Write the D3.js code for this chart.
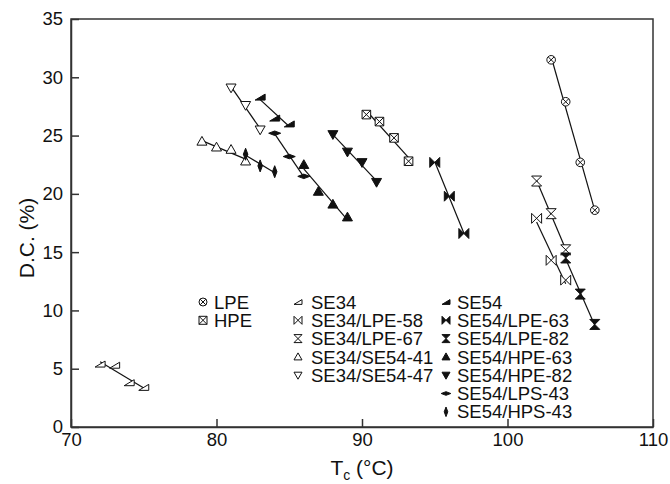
<!DOCTYPE html>
<html lang="en">
<head>
  <meta charset="utf-8">
  <title>D.C. vs Tc</title>
  <script src="https://d3js.org/d3.v7.min.js"></script>
  <style>
    body { margin: 0; background: #fff; }
    svg { font-family: "Liberation Sans", Arial, sans-serif; }
    .axis text { font-size: 18.5px; fill: #111; }
    .axis path, .axis line { stroke: #333; stroke-width: 1.5; }
    .frame { fill: none; stroke: #333; stroke-width: 1.5; }
    .fit { stroke: #111; stroke-width: 1.2; fill: none; }
    .legend text { font-size: 18.5px; fill: #111; }
    .title { font-size: 21px; fill: #111; }
  </style>
</head>
<body>
  <svg id="chart" width="670" height="484"></svg>
  <script>
    // [Tc (°C), D.C. (%)]
    const lpe      = [[103, 31.5], [104, 27.9], [105, 22.7], [106, 18.6]];
    const hpe      = [[90.3, 26.8], [91.2, 26.2], [92.2, 24.8], [93.2, 22.8]];
    const se34     = [[72, 5.4], [73, 5.3], [74, 3.8], [75, 3.4]];
    const se34lpe58 = [[102, 17.9], [103, 14.3], [104, 12.6]];
    const se34lpe67 = [[102, 21.1], [103, 18.3], [104, 15.2]];
    const se34se41 = [[79, 24.5], [80, 24.0], [81, 23.8], [82, 22.8]];
    const se34se47 = [[81, 29.1], [82, 27.6], [83, 25.5]];
    const se54     = [[83, 28.3], [84, 26.5], [85, 26.0]];
    const se54lpe63 = [[95, 22.7], [96, 19.8], [97, 16.6]];
    const se54lpe82 = [[104, 14.5], [105, 11.4], [106, 8.8]];
    const se54hpe63 = [[86, 22.5], [87, 20.2], [88, 19.1], [89, 18.0]];
    const se54hpe82 = [[88, 25.1], [89, 23.6], [90, 22.7], [91, 21.0]];
    const se54lps43 = [[84, 25.2], [85, 23.2], [86, 21.5]];
    const se54hps43 = [[82, 23.4], [83, 22.4], [84, 21.9]];

    const xTicks = [70, 80, 90, 100, 110];
    const yTicks = [0, 5, 10, 15, 20, 25, 30, 35];

    const series = [
      {name: "LPE",          data: lpe,       shape: "circleX",   filled: false, col: 0},
      {name: "HPE",          data: hpe,       shape: "squareX",   filled: false, col: 0},
      {name: "SE34",         data: se34,      shape: "rtri",      filled: false, col: 1},
      {name: "SE34/LPE-58",  data: se34lpe58, shape: "bowtie",    filled: false, col: 1},
      {name: "SE34/LPE-67",  data: se34lpe67, shape: "hourglass", filled: false, col: 1},
      {name: "SE34/SE54-41", data: se34se41,  shape: "triUp",     filled: false, col: 1},
      {name: "SE34/SE54-47", data: se34se47,  shape: "triDown",   filled: false, col: 1},
      {name: "SE54",         data: se54,      shape: "rtri",      filled: true,  col: 2},
      {name: "SE54/LPE-63",  data: se54lpe63, shape: "bowtie",    filled: true,  col: 2},
      {name: "SE54/LPE-82",  data: se54lpe82, shape: "hourglass", filled: true,  col: 2},
      {name: "SE54/HPE-63",  data: se54hpe63, shape: "triUp",     filled: true,  col: 2},
      {name: "SE54/HPE-82",  data: se54hpe82, shape: "triDown",   filled: true,  col: 2},
      {name: "SE54/LPS-43",  data: se54lps43, shape: "hdiamond",  filled: true,  col: 2},
      {name: "SE54/HPS-43",  data: se54hps43, shape: "vdiamond",  filled: true,  col: 2}
    ];

    var margin = {top: 19, right: 17, bottom: 57, left: 71},
      width = 670 - margin.left - margin.right,
      height = 484 - margin.top - margin.bottom;

    var svg = d3.select("#chart");
    var g = svg.append("g").attr("transform", `translate(${margin.left},${margin.top})`);

    var x = d3.scaleLinear().domain([70, 110]).range([0, width]);
    var y = d3.scaleLinear().domain([0, 35]).range([height, 0]);

    function markerPath(shape, s) {
      switch (shape) {
        case "circleX": {
          var k = s * 0.7;
          return `M${s},0A${s},${s} 0 1,1 ${-s},0A${s},${s} 0 1,1 ${s},0Z` +
            `M${-k},${-k}L${k},${k}M${k},${-k}L${-k},${k}`;
        }
        case "squareX":
          return `M${-s},${-s}H${s}V${s}H${-s}Z` +
            `M${-s},${-s}L${s},${s}M${s},${-s}L${-s},${s}`;
        case "rtri":
          return `M${-s},${s * 0.6}L${s},${s * 0.6}L${s},${-s * 0.6}Z`;
        case "bowtie":
          return `M${-s},${-s}L${s},${s}L${s},${-s}L${-s},${s}Z`;
        case "hourglass":
          return `M${-s},${-s}L${s},${-s}L${-s},${s}L${s},${s}Z`;
        case "triUp":
          return `M0,${-s}L${s},${s * 0.75}L${-s},${s * 0.75}Z`;
        case "triDown":
          return `M0,${s}L${s},${-s * 0.75}L${-s},${-s * 0.75}Z`;
        case "hdiamond":
          return `M${-s * 1.2},0L0,${-s * 0.45}L${s * 1.2},0L0,${s * 0.45}Z`;
        case "vdiamond":
          return `M0,${-s * 1.2}L${s * 0.45},0L0,${s * 1.2}L${-s * 0.45},0Z`;
      }
    }

    function fitLine(data) {
      var mx = d3.mean(data, d => d[0]),
        my = d3.mean(data, d => d[1]);
      var sxy = d3.sum(data, d => (d[0] - mx) * (d[1] - my)),
        sxx = d3.sum(data, d => (d[0] - mx) * (d[0] - mx));
      var b = sxy / sxx, a = my - b * mx;
      var x0 = d3.min(data, d => d[0]), x1 = d3.max(data, d => d[0]);
      return [[x0, a + b * x0], [x1, a + b * x1]];
    }

    // axes, ticks pointing inward
    g.append("g")
      .attr("class", "axis")
      .attr("transform", `translate(0,${height})`)
      .call(d3.axisBottom(x).tickValues(xTicks).tickSize(-8).tickPadding(6).tickSizeOuter(0));

    g.append("g")
      .attr("class", "axis")
      .call(d3.axisLeft(y).tickValues(yTicks).tickSize(-8).tickPadding(8).tickSizeOuter(0));

    g.append("rect")
      .attr("class", "frame")
      .attr("width", width)
      .attr("height", height);

    // fitted lines
    g.selectAll("line.fit")
      .data(series)
      .enter()
      .append("line")
        .attr("class", "fit")
        .each(function(d) {
          var f = fitLine(d.data);
          d3.select(this)
            .attr("x1", x(f[0][0])).attr("y1", y(f[0][1]))
            .attr("x2", x(f[1][0])).attr("y2", y(f[1][1]));
        });

    // points
    series.forEach(function(s) {
      g.selectAll(null)
        .data(s.data)
        .enter()
        .append("path")
          .attr("d", markerPath(s.shape, s.shape === "circleX" || s.shape === "squareX" ? 4.3 : 5))
          .attr("transform", d => `translate(${x(d[0])},${y(d[1])})`)
          .attr("fill", s.filled ? "#111" : "#fff")
          .attr("stroke", "#111")
          .attr("stroke-width", 1);
    });

    // legend
    var legendCols = [{mx: 203, tx: 214}, {mx: 298, tx: 311}, {mx: 446, tx: 457}];
    var legendTop = 302, legendStep = 18.3;
    var colCount = [0, 0, 0];
    var legend = svg.append("g").attr("class", "legend");
    series.forEach(function(s) {
      var c = legendCols[s.col];
      var ly = legendTop + legendStep * colCount[s.col]++;
      legend.append("path")
        .attr("d", markerPath(s.shape, 4))
        .attr("transform", `translate(${c.mx},${ly})`)
        .attr("fill", s.filled ? "#111" : "#fff")
        .attr("stroke", "#111")
        .attr("stroke-width", 1);
      legend.append("text")
        .attr("x", c.tx)
        .attr("y", ly)
        .attr("dy", "0.36em")
        .text(s.name);
    });

    // axis titles
    svg.append("text")
      .attr("class", "title")
      .attr("transform", "translate(34,238) rotate(-90)")
      .attr("text-anchor", "middle")
      .text("D.C. (%)");

    var xt = svg.append("text")
      .attr("class", "title")
      .attr("x", margin.left + width / 2)
      .attr("y", 475)
      .attr("text-anchor", "middle");
    xt.append("tspan").text("T");
    xt.append("tspan").attr("font-size", "14px").attr("dy", 5).text("c");
    xt.append("tspan").attr("dy", -5).text(" (°C)");
  </script>
</body>
</html>
